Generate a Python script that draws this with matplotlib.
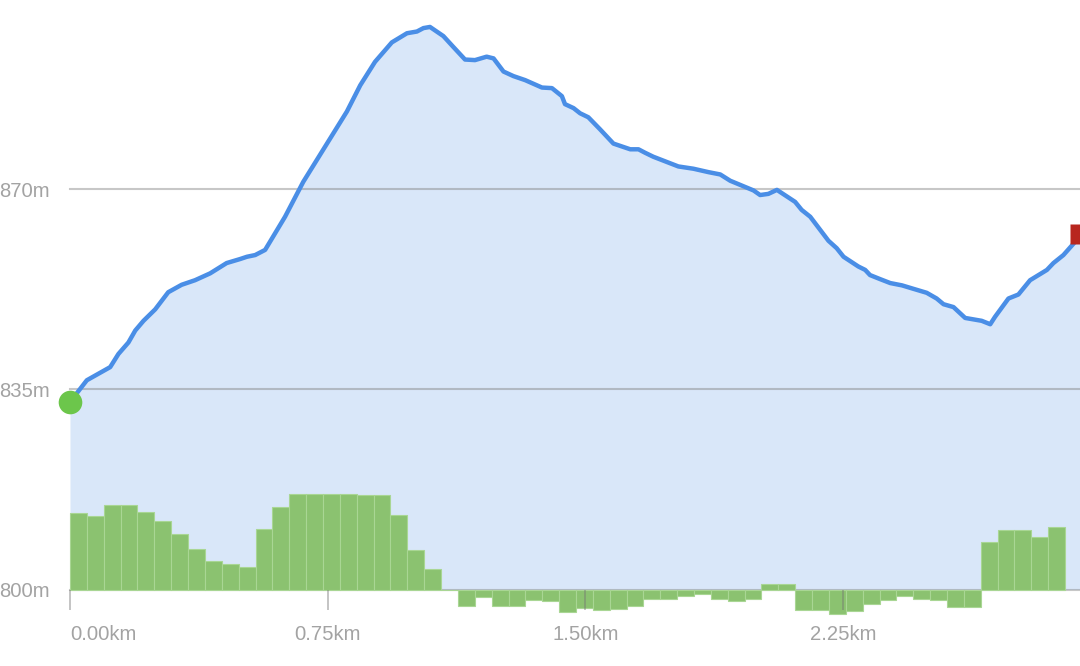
import numpy as np
import matplotlib
matplotlib.use("Agg")
import matplotlib.pyplot as plt

plt.rcParams['font.family'] = ['Liberation Sans', 'DejaVu Sans']

# ---------------- data ----------------
dist_km = [0.000, 0.049, 0.117, 0.141, 0.170, 0.190, 0.214, 0.248, 0.286, 0.325,
           0.364, 0.408, 0.456, 0.495, 0.515, 0.539, 0.568, 0.626, 0.679, 0.743,
           0.806, 0.845, 0.888, 0.937, 0.981, 1.010, 1.029, 1.048, 1.087, 1.116,
           1.150, 1.179, 1.213, 1.233, 1.262, 1.291, 1.325, 1.374, 1.403, 1.432,
           1.441, 1.466, 1.485, 1.509, 1.543, 1.582, 1.631, 1.655, 1.674, 1.698,
           1.771, 1.815, 1.859, 1.893, 1.922, 1.990, 2.009, 2.033, 2.058, 2.111,
           2.130, 2.155, 2.208, 2.232, 2.252, 2.295, 2.315, 2.329, 2.358, 2.388,
           2.422, 2.455, 2.494, 2.523, 2.543, 2.572, 2.606, 2.654, 2.679, 2.693,
           2.732, 2.761, 2.795, 2.844, 2.863, 2.892, 2.926, 2.941]
elev_m = [832.8, 836.6, 838.9, 841.2, 843.2, 845.3, 847.0, 849.0, 852.0, 853.3,
          854.1, 855.3, 857.1, 857.8, 858.2, 858.5, 859.4, 865.2, 871.3, 877.5,
          883.6, 888.2, 892.3, 895.7, 897.3, 897.6, 898.2, 898.4, 896.8, 894.9,
          892.7, 892.6, 893.2, 892.9, 890.6, 889.8, 889.1, 887.8, 887.7, 886.3,
          884.9, 884.2, 883.3, 882.6, 880.5, 878.0, 877.0, 877.0, 876.4, 875.7,
          874.0, 873.6, 873.0, 872.6, 871.5, 869.8, 869.0, 869.2, 869.9, 867.8,
          866.4, 865.2, 861.0, 859.7, 858.2, 856.5, 855.9, 855.0, 854.3, 853.6,
          853.2, 852.6, 851.9, 850.9, 849.9, 849.4, 847.5, 847.0, 846.4, 847.7,
          850.9, 851.6, 854.1, 855.9, 857.1, 858.5, 860.8, 862.2]

# gradient bars, heights expressed in chart units above/below the 800 m base
bar_heights = [13.4, 12.9, 14.8, 14.8, 13.5, 12.0, 9.7, 7.1, 5.0, 4.5,
               3.9, 10.6, 14.4, 16.7, 16.7, 16.7, 16.7, 16.5, 16.5, 13.0,
               6.9, 3.6, 0.0, -2.8, -1.3, -2.8, -2.8, -1.8, -2.0, -4.0,
               -3.3, -3.5, -3.4, -2.8, -1.7, -1.7, -1.2, -0.7, -1.7, -2.0,
               -1.6, 0.9, 0.9, -3.5, -3.6, -4.3, -3.8, -2.6, -1.9, -1.2,
               -1.7, -1.9, -3.1, -3.1, 8.3, 10.4, 10.4, 9.1, 10.9]
bar_width_km = 0.0491

y_ticks = [800, 835, 870]
y_labels = ['800m', '835m', '870m']
x_ticks = [0.0, 0.75, 1.5, 2.25]
x_labels = ['0.00km', '0.75km', '1.50km', '2.25km']

# ---------------- figure ----------------
W, H = 1080, 666
fig = plt.figure(figsize=(W / 100, H / 100), dpi=100)
base_px = 589.5
ax = fig.add_axes([70 / W, (H - base_px) / H, 1010 / W, base_px / H])
ax.set_facecolor('none')
ax.set_xlim(0, 1010 / 343.5)
ax.set_ylim(800, 800 + base_px / 5.717)

ax.fill_between(dist_km, 800, elev_m, color='#d9e7f9', lw=0, zorder=1)

for yv in y_ticks:
    ax.axhline(yv, color='#7a7a7a', alpha=0.42, lw=1.5, zorder=2, clip_on=False)

bar_left = np.arange(len(bar_heights)) * bar_width_km
ax.bar(bar_left, bar_heights, width=bar_width_km, bottom=800, align='edge',
       color='#8bc270', edgecolor='#a9d694', linewidth=0.8, zorder=3,
       clip_on=False)

ax.plot(dist_km, elev_m, color='#4a8ee6', lw=3.2, solid_joinstyle='round',
        solid_capstyle='round', zorder=4)
ax.plot(dist_km[0], elev_m[0], 'o', ms=17, color='#6cc64b', mec='none',
        zorder=5, clip_on=False)
ax.plot(dist_km[-1], elev_m[-1], 's', ms=14.4, color='#b8261e', mec='none',
        zorder=5, clip_on=False)

for s in ax.spines.values():
    s.set_visible(False)

ax.set_yticks(y_ticks, labels=y_labels)
ax.tick_params(axis='y', length=0, pad=14.4, labelsize=14.6, labelcolor='#a3a3a3')

ax.set_xticks(x_ticks, labels=x_labels)
ax.tick_params(axis='x', length=14.4, width=1.4, direction='out',
               color=(0.45, 0.45, 0.45, 0.42), pad=11.2, labelsize=14.6,
               labelcolor='#a3a3a3')
ax.xaxis.set_zorder(6)
ax.get_xticklabels()[0].set_horizontalalignment('left')

fig.savefig('out.png', dpi=100)
